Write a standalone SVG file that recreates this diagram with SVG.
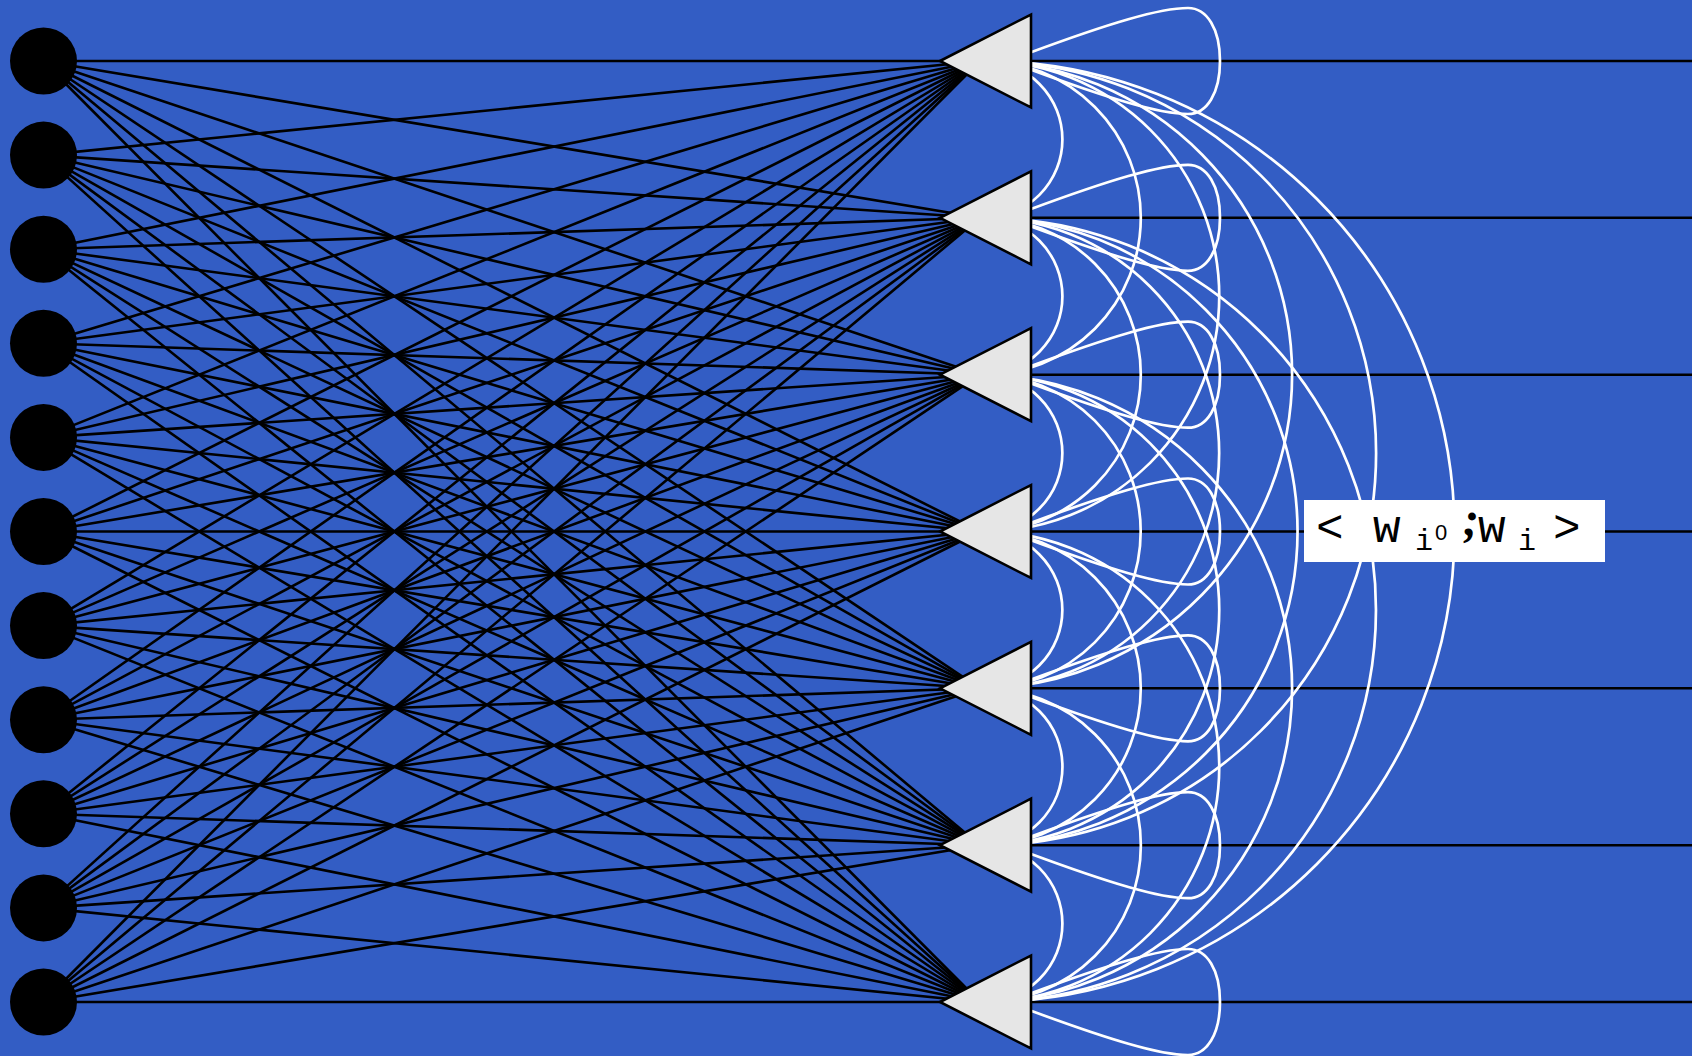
<svg xmlns="http://www.w3.org/2000/svg" width="1692" height="1056" viewBox="0 0 1692 1056">
<style>
.bk{stroke:#000;stroke-width:2.6;fill:none}
.wh{stroke:#fff;stroke-width:2.7;fill:none}
.in{fill:#000}
.tri{fill:#e6e6e6;stroke:#000;stroke-width:2.6;stroke-linejoin:miter}
.lbl{font-family:"Liberation Mono",monospace;font-size:46px;fill:#000}
</style>
<rect width="1692" height="1056" fill="#335dc4"/>
<g id="connectors">
<g id="inputs-to-units" class="bk">
<line x1="43" y1="61" x2="980" y2="61"/><line x1="43" y1="61" x2="980" y2="217.8"/><line x1="43" y1="61" x2="980" y2="374.7"/><line x1="43" y1="61" x2="980" y2="531.5"/><line x1="43" y1="61" x2="980" y2="688.3"/><line x1="43" y1="61" x2="980" y2="845.2"/><line x1="43" y1="61" x2="980" y2="1002"/>
<line x1="43" y1="155.1" x2="980" y2="61"/><line x1="43" y1="155.1" x2="980" y2="217.8"/><line x1="43" y1="155.1" x2="980" y2="374.7"/><line x1="43" y1="155.1" x2="980" y2="531.5"/><line x1="43" y1="155.1" x2="980" y2="688.3"/><line x1="43" y1="155.1" x2="980" y2="845.2"/><line x1="43" y1="155.1" x2="980" y2="1002"/>
<line x1="43" y1="249.2" x2="980" y2="61"/><line x1="43" y1="249.2" x2="980" y2="217.8"/><line x1="43" y1="249.2" x2="980" y2="374.7"/><line x1="43" y1="249.2" x2="980" y2="531.5"/><line x1="43" y1="249.2" x2="980" y2="688.3"/><line x1="43" y1="249.2" x2="980" y2="845.2"/><line x1="43" y1="249.2" x2="980" y2="1002"/>
<line x1="43" y1="343.3" x2="980" y2="61"/><line x1="43" y1="343.3" x2="980" y2="217.8"/><line x1="43" y1="343.3" x2="980" y2="374.7"/><line x1="43" y1="343.3" x2="980" y2="531.5"/><line x1="43" y1="343.3" x2="980" y2="688.3"/><line x1="43" y1="343.3" x2="980" y2="845.2"/><line x1="43" y1="343.3" x2="980" y2="1002"/>
<line x1="43" y1="437.4" x2="980" y2="61"/><line x1="43" y1="437.4" x2="980" y2="217.8"/><line x1="43" y1="437.4" x2="980" y2="374.7"/><line x1="43" y1="437.4" x2="980" y2="531.5"/><line x1="43" y1="437.4" x2="980" y2="688.3"/><line x1="43" y1="437.4" x2="980" y2="845.2"/><line x1="43" y1="437.4" x2="980" y2="1002"/>
<line x1="43" y1="531.5" x2="980" y2="61"/><line x1="43" y1="531.5" x2="980" y2="217.8"/><line x1="43" y1="531.5" x2="980" y2="374.7"/><line x1="43" y1="531.5" x2="980" y2="531.5"/><line x1="43" y1="531.5" x2="980" y2="688.3"/><line x1="43" y1="531.5" x2="980" y2="845.2"/><line x1="43" y1="531.5" x2="980" y2="1002"/>
<line x1="43" y1="625.6" x2="980" y2="61"/><line x1="43" y1="625.6" x2="980" y2="217.8"/><line x1="43" y1="625.6" x2="980" y2="374.7"/><line x1="43" y1="625.6" x2="980" y2="531.5"/><line x1="43" y1="625.6" x2="980" y2="688.3"/><line x1="43" y1="625.6" x2="980" y2="845.2"/><line x1="43" y1="625.6" x2="980" y2="1002"/>
<line x1="43" y1="719.7" x2="980" y2="61"/><line x1="43" y1="719.7" x2="980" y2="217.8"/><line x1="43" y1="719.7" x2="980" y2="374.7"/><line x1="43" y1="719.7" x2="980" y2="531.5"/><line x1="43" y1="719.7" x2="980" y2="688.3"/><line x1="43" y1="719.7" x2="980" y2="845.2"/><line x1="43" y1="719.7" x2="980" y2="1002"/>
<line x1="43" y1="813.8" x2="980" y2="61"/><line x1="43" y1="813.8" x2="980" y2="217.8"/><line x1="43" y1="813.8" x2="980" y2="374.7"/><line x1="43" y1="813.8" x2="980" y2="531.5"/><line x1="43" y1="813.8" x2="980" y2="688.3"/><line x1="43" y1="813.8" x2="980" y2="845.2"/><line x1="43" y1="813.8" x2="980" y2="1002"/>
<line x1="43" y1="907.9" x2="980" y2="61"/><line x1="43" y1="907.9" x2="980" y2="217.8"/><line x1="43" y1="907.9" x2="980" y2="374.7"/><line x1="43" y1="907.9" x2="980" y2="531.5"/><line x1="43" y1="907.9" x2="980" y2="688.3"/><line x1="43" y1="907.9" x2="980" y2="845.2"/><line x1="43" y1="907.9" x2="980" y2="1002"/>
<line x1="43" y1="1002" x2="980" y2="61"/><line x1="43" y1="1002" x2="980" y2="217.8"/><line x1="43" y1="1002" x2="980" y2="374.7"/><line x1="43" y1="1002" x2="980" y2="531.5"/><line x1="43" y1="1002" x2="980" y2="688.3"/><line x1="43" y1="1002" x2="980" y2="845.2"/><line x1="43" y1="1002" x2="980" y2="1002"/>
</g>
<g id="outputs" class="bk">
<line x1="1031" y1="61" x2="1692" y2="61"/><line x1="1031" y1="217.8" x2="1692" y2="217.8"/><line x1="1031" y1="374.7" x2="1692" y2="374.7"/><line x1="1031" y1="531.5" x2="1692" y2="531.5"/><line x1="1031" y1="688.3" x2="1692" y2="688.3"/><line x1="1031" y1="845.2" x2="1692" y2="845.2"/><line x1="1031" y1="1002" x2="1692" y2="1002"/>
</g>
<g id="lateral" class="wh">
<path d="M984,61 A78.4,78.4 0 0 1 984,217.8"/><path d="M984,217.8 A78.4,78.4 0 0 1 984,374.7"/><path d="M984,374.7 A78.4,78.4 0 0 1 984,531.5"/><path d="M984,531.5 A78.4,78.4 0 0 1 984,688.3"/><path d="M984,688.3 A78.4,78.4 0 0 1 984,845.2"/><path d="M984,845.2 A78.4,78.4 0 0 1 984,1002"/>
<path d="M984,61 A156.8,156.8 0 0 1 984,374.7"/><path d="M984,217.8 A156.8,156.8 0 0 1 984,531.5"/><path d="M984,374.7 A156.8,156.8 0 0 1 984,688.3"/><path d="M984,531.5 A156.8,156.8 0 0 1 984,845.2"/><path d="M984,688.3 A156.8,156.8 0 0 1 984,1002"/>
<path d="M984,61 A235.25,235.25 0 0 1 984,531.5"/><path d="M984,217.8 A235.25,235.25 0 0 1 984,688.3"/><path d="M984,374.7 A235.25,235.25 0 0 1 984,845.2"/><path d="M984,531.5 A235.25,235.25 0 0 1 984,1002"/>
<path d="M984,61 A313.7,313.7 0 0 1 984,688.3"/><path d="M984,217.8 A313.7,313.7 0 0 1 984,845.2"/><path d="M984,374.7 A313.7,313.7 0 0 1 984,1002"/>
<path d="M984,61 A392.1,392.1 0 0 1 984,845.2"/><path d="M984,217.8 A392.1,392.1 0 0 1 984,1002"/>
<path d="M984,61 A470.5,470.5 0 0 1 984,1002"/>
</g>
<g id="self-loops" class="wh">
<path d="M1029,53 C1110,23 1160,8 1188,8 C1207,8 1220,29 1220,61 C1220,93 1207,114 1188,114 C1160,114 1110,99 1029,69"/>
<path d="M1029,209.8 C1110,179.8 1160,164.8 1188,164.8 C1207,164.8 1220,185.8 1220,217.8 C1220,249.8 1207,270.8 1188,270.8 C1160,270.8 1110,255.8 1029,225.8"/>
<path d="M1029,366.7 C1110,336.7 1160,321.7 1188,321.7 C1207,321.7 1220,342.7 1220,374.7 C1220,406.7 1207,427.7 1188,427.7 C1160,427.7 1110,412.7 1029,382.7"/>
<path d="M1029,523.5 C1110,493.5 1160,478.5 1188,478.5 C1207,478.5 1220,499.5 1220,531.5 C1220,563.5 1207,584.5 1188,584.5 C1160,584.5 1110,569.5 1029,539.5"/>
<path d="M1029,680.3 C1110,650.3 1160,635.3 1188,635.3 C1207,635.3 1220,656.3 1220,688.3 C1220,720.3 1207,741.3 1188,741.3 C1160,741.3 1110,726.3 1029,696.3"/>
<path d="M1029,837.2 C1110,807.2 1160,792.2 1188,792.2 C1207,792.2 1220,813.2 1220,845.2 C1220,877.2 1207,898.2 1188,898.2 C1160,898.2 1110,883.2 1029,853.2"/>
<path d="M1029,994 C1110,964 1160,949 1188,949 C1207,949 1220,970 1220,1002 C1220,1034 1207,1055 1188,1055 C1160,1055 1110,1040 1029,1010"/>
</g>
</g>
<g id="input-nodes" class="in">
<circle id="in1" cx="43.5" cy="61" r="33.5"/>
<circle id="in2" cx="43.5" cy="155.1" r="33.5"/>
<circle id="in3" cx="43.5" cy="249.2" r="33.5"/>
<circle id="in4" cx="43.5" cy="343.3" r="33.5"/>
<circle id="in5" cx="43.5" cy="437.4" r="33.5"/>
<circle id="in6" cx="43.5" cy="531.5" r="33.5"/>
<circle id="in7" cx="43.5" cy="625.6" r="33.5"/>
<circle id="in8" cx="43.5" cy="719.7" r="33.5"/>
<circle id="in9" cx="43.5" cy="813.8" r="33.5"/>
<circle id="in10" cx="43.5" cy="907.9" r="33.5"/>
<circle id="in11" cx="43.5" cy="1002" r="33.5"/>
</g>
<g id="units">
<g id="unit1"><polygon class="tri" points="940,61 1031,14.5 1031,107.5"/></g>
<g id="unit2"><polygon class="tri" points="940,217.8 1031,171.3 1031,264.3"/></g>
<g id="unit3"><polygon class="tri" points="940,374.7 1031,328.2 1031,421.2"/></g>
<g id="unit4"><polygon class="tri" points="940,531.5 1031,485 1031,578"/></g>
<g id="unit5"><polygon class="tri" points="940,688.3 1031,641.8 1031,734.8"/></g>
<g id="unit6"><polygon class="tri" points="940,845.2 1031,798.7 1031,891.7"/></g>
<g id="unit7"><polygon class="tri" points="940,1002 1031,955.5 1031,1048.5"/></g>
</g>
<g id="label">
<rect x="1304" y="500" width="301" height="62" fill="#fff"/>
<text class="lbl"><tspan x="1316" y="542">&lt;</tspan><tspan x="1373" y="542">w</tspan><tspan x="1415" y="550" font-size="30">i</tspan><tspan x="1435" y="540" font-size="22" font-family="Liberation Sans, sans-serif">0</tspan><tspan x="1463" y="535" font-size="48" font-family="Liberation Serif, serif" font-weight="bold" font-style="italic">;</tspan><tspan x="1478" y="542">w</tspan><tspan x="1518" y="550" font-size="30">i</tspan><tspan x="1553" y="542">&gt;</tspan></text>
</g>
</svg>
